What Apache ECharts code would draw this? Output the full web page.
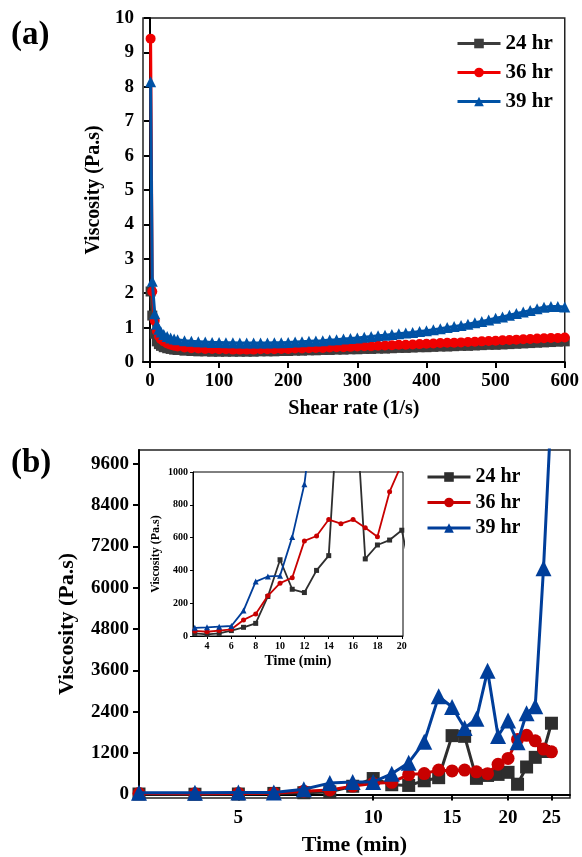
<!DOCTYPE html>
<html><head><meta charset="utf-8">
<script src="https://cdn.jsdelivr.net/npm/echarts@6/dist/echarts.min.js"></script>
<style>html,body{margin:0;padding:0;background:#fff}#c{width:582px;height:857px}</style>
</head><body><div id="c"></div>
<script>
const FONT = "'Liberation Serif','Times New Roman',serif";

// ---------- panel (a) data ----------
const shearRate = [1,3.4,7,10,13,16,20,25,30,35,40,50,60,70,80,90,100,110,120,130,140,150,160,170,180,190,200,210,220,230,240,250,260,270,280,290,300,310,320,330,340,350,360,370,380,390,400,410,420,430,440,450,460,470,480,490,500,510,520,530,540,550,560,570,580,590,600];
const visc24a = [2.05,1.35,0.82,0.6,0.52,0.47,0.43,0.4,0.38,0.36,
0.35,0.33,0.32,0.31,0.31,0.3,0.3,0.3,0.3,0.3,
0.3,0.3,0.31,0.31,0.31,0.32,0.32,0.33,0.33,0.34,
0.34,0.35,0.35,0.36,0.36,0.37,0.37,0.38,0.38,0.39,
0.39,0.4,0.41,0.41,0.42,0.43,0.43,0.44,0.45,0.45,
0.46,0.47,0.47,0.48,0.49,0.5,0.5,0.51,0.52,0.53,
0.54,0.55,0.56,0.57,0.58,0.59,0.6];
const visc36a = [9.4,2.05,1.2,0.9,0.75,0.66,0.6,0.54,0.5,0.47,
0.45,0.42,0.4,0.39,0.38,0.38,0.37,0.37,0.36,0.36,
0.36,0.36,0.37,0.37,0.37,0.38,0.38,0.39,0.39,0.4,
0.41,0.41,0.42,0.43,0.43,0.44,0.45,0.46,0.46,0.47,
0.48,0.49,0.5,0.5,0.51,0.52,0.53,0.54,0.55,0.56,
0.56,0.57,0.58,0.59,0.6,0.61,0.62,0.63,0.64,0.65,
0.66,0.67,0.68,0.69,0.7,0.7,0.71];
const visc39a = [8.15,2.35,1.4,1.1,0.95,0.87,0.8,0.74,0.7,0.67,
0.65,0.62,0.6,0.59,0.58,0.57,0.57,0.56,0.56,0.55,
0.55,0.55,0.55,0.55,0.56,0.56,0.57,0.58,0.59,0.6,
0.61,0.62,0.64,0.65,0.67,0.68,0.7,0.72,0.74,0.76,
0.78,0.8,0.82,0.84,0.86,0.89,0.91,0.94,0.97,1.0,
1.03,1.06,1.1,1.14,1.18,1.22,1.27,1.31,1.36,1.41,
1.45,1.5,1.55,1.59,1.61,1.61,1.6];
const aXTicks = [0,100,200,300,400,500,600];

// ---------- panel (b) data ----------
const timeMin = [3,4,5,6,7,8,9,10,11,12,13,14,15,16,17,18,19,20,21,22,23,24,25];
const visc24b = [16,10,16,33,53,77,241,465,285,265,400,490,1710,1690,470,555,585,645,300,800,1080,1250,2070];
const visc36b = [31,26,33,41,98,134,245,322,355,580,610,710,685,710,660,605,880,1050,1600,1720,1560,1320,1240];
const visc39b = [50,53,57,61,155,332,363,367,603,925,1530,2850,2540,1930,2200,3590,1700,2150,1520,2360,2560,6570,11300];
const bXTicks = [5,10,15,20,25];
const bYTicks = [0,1200,2400,3600,4800,6000,7200,8400,9600];
const insetXTicks = [4,6,8,10,12,14,16,18,20];

const names = ['24 hr','36 hr','39 hr'];
const symbols = ['rect','circle','triangle'];
const colA = ['#3c3c3c','#f00000','#0052a5'];
const colB = ['#2e2e2e','#c80000','#003e9a'];

function pairs(xs, ys){ return xs.map((x,i)=>[x, ys[i]]); }
const plain = v => String(v);

const txt = {fontFamily: FONT, fontWeight: 'bold', color: '#000'};
const axLine = {show:true, lineStyle:{color:'#000', width:2}};

const series = [];
const aData = [visc24a, visc36a, visc39a];
const bData = [visc24b, visc36b, visc39b];
for (let k=0;k<3;k++){
  series.push({name:names[k], type:'line', xAxisIndex:0, yAxisIndex:0,
    data: pairs(shearRate, aData[k]), symbol:symbols[k], symbolSize: k===2?11:10,
    lineStyle:{width:3, color:colA[k]}, itemStyle:{color:colA[k]}, z:2+k});
}
for (let k=0;k<3;k++){
  series.push({name:names[k], type:'line', xAxisIndex:1, yAxisIndex:1,
    data: pairs(timeMin, bData[k]), symbol:symbols[k], symbolSize: k===2?16:13,
    lineStyle:{width:3, color:colB[k]}, itemStyle:{color:colB[k]}, z:2+k});
}
for (let k=0;k<3;k++){
  series.push({name:names[k], type:'line', xAxisIndex:2, yAxisIndex:2,
    data: pairs(timeMin, bData[k]), symbol:symbols[k], symbolSize: k===2?6:5,
    lineStyle:{width:1.8, color:colB[k]}, itemStyle:{color:colB[k]}, z:12+k});
}

const option = {
  backgroundColor:'#fff',
  animation:false,
  title:[
    {text:'(a)', left:11, top:19, padding:0, textStyle:{...txt, fontSize:33}},
    {text:'(b)', left:11, top:447, padding:0, textStyle:{...txt, fontSize:33}}
  ],
  legend:[
    {orient:'vertical', left:456, top:33, itemWidth:43, itemHeight:12, itemGap:8,
     textStyle:{...txt, fontSize:21}, padding:0,
     data: names.map((n,k)=>({name:n, itemStyle:{color:colA[k]}, lineStyle:{color:colA[k], width:3}}))},
    {orient:'vertical', left:426, top:467, itemWidth:43, itemHeight:12, itemGap:5.5,
     textStyle:{...txt, fontSize:20}, padding:0,
     data: names.map((n,k)=>({name:n, itemStyle:{color:colB[k]}, lineStyle:{color:colB[k], width:3}}))}
  ],
  grid:[
    {left:143, right:15, top:18, bottom:495, show:true, borderColor:'#222', borderWidth:1.5},
    {left:139, right:12, top:450, bottom:58, show:true, borderColor:'#222', borderWidth:1.5},
    {left:193, right:179, top:472, bottom:221, show:true, borderColor:'#000', borderWidth:1, backgroundColor:'#fff', z:10}
  ],
  xAxis:[
    {gridIndex:0, type:'value', min:-10, max:600,
     name:'Shear rate (1/s)', nameLocation:'middle', nameGap:37, nameTextStyle:{...txt, fontSize:20},
     axisLine:axLine, axisTick:{show:true, length:6, lineStyle:{width:2,color:'#000'}, customValues:aXTicks},
     axisLabel:{...txt, fontSize:19, margin:10, customValues:aXTicks, formatter:plain}, splitLine:{show:false}},
    {gridIndex:1, type:'log', logBase:10, min:3, max:27.5,
     name:'Time (min)', nameLocation:'middle', nameGap:36, nameTextStyle:{...txt, fontSize:22},
     axisLine:axLine, axisTick:{show:true, length:6, lineStyle:{width:2,color:'#000'}, customValues:bXTicks},
     minorTick:{show:false},
     axisLabel:{...txt, fontSize:19, margin:11, customValues:bXTicks, formatter:plain}, splitLine:{show:false}},
    {gridIndex:2, type:'value', min:2.85, max:20.1, z:11,
     name:'Time (min)', nameLocation:'middle', nameGap:18, nameTextStyle:{...txt, fontSize:14},
     axisLine:{show:true, lineStyle:{color:'#000', width:1}}, axisTick:{show:true, length:3, customValues:insetXTicks, lineStyle:{color:'#000'}},
     axisLabel:{...txt, fontSize:10, margin:5, customValues:insetXTicks, formatter:plain}, splitLine:{show:false}}
  ],
  yAxis:[
    {gridIndex:0, type:'value', min:0, max:10, interval:1,
     name:'Viscosity (Pa.s)', nameLocation:'middle', nameGap:38, nameTextStyle:{...txt, fontSize:20},
     axisLine:axLine, axisTick:{show:true, length:6, lineStyle:{width:2,color:'#000'}},
     axisLabel:{...txt, fontSize:19, margin:9, formatter:plain}, splitLine:{show:false}},
    {gridIndex:1, type:'value', min:-100, max:10000,
     name:'Viscosity (Pa.s)', nameLocation:'middle', nameGap:61, nameTextStyle:{...txt, fontSize:22},
     axisLine:axLine, axisTick:{show:true, length:6, lineStyle:{width:2,color:'#000'}, customValues:bYTicks},
     axisLabel:{...txt, fontSize:19, margin:10, customValues:bYTicks, formatter:plain}, splitLine:{show:false}},
    {gridIndex:2, type:'value', min:0, max:1000, interval:200, z:11,
     name:'Viscosity (Pa.s)', nameLocation:'middle', nameGap:31, nameTextStyle:{...txt, fontSize:12},
     axisLine:{show:true, lineStyle:{color:'#000', width:1}}, axisTick:{show:true, length:3, lineStyle:{color:'#000'}},
     axisLabel:{...txt, fontSize:10, margin:5, formatter:plain}, splitLine:{show:false}}
  ],
  series: series
};
const chart = echarts.init(document.getElementById('c'), null, {renderer:'canvas'});
chart.setOption(option);
</script></body></html>
